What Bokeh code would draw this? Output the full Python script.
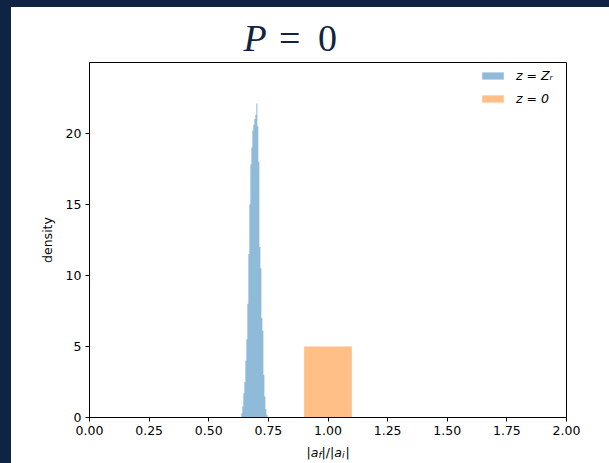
import numpy as np
from bokeh.plotting import figure
from bokeh.models import Legend, LegendItem, Label, FixedTicker, Range1d, Spacer, NumeralTickFormatter
from bokeh.layouts import row, column
from bokeh.embed import file_html
from bokeh.resources import INLINE

# ---------------- data ----------------
# z = Z_r histogram (density), uniform bins
zr_bin_lo = 0.6366
zr_bin_width = 0.0042
zr_density = [0.3, 0.8, 1.7, 2.5, 4.0, 5.5, 8.0, 11.5, 15.0, 17.8, 19.0, 20.2, 20.6,
              21.0, 21.3, 22.1, 20.5, 18.0, 12.0, 10.5, 7.0, 6.1, 3.0, 1.5, 0.6, 0.2]
# z = 0 histogram
z0_left = [0.9]
z0_right = [1.1]
z0_density = [5.0]

x_ticks = [0.0, 0.25, 0.5, 0.75, 1.0, 1.25, 1.5, 1.75, 2.0]
y_ticks = [0, 5, 10, 15, 20]
x_range = (0.0, 2.0)
y_range = (0.0, 24.98)

legend_labels = ["z = Z\u1d63", "z = 0"]
y_label = "density"

# ---------------- styles ----------------
NAVY = "#0f2442"
BLUE = "#1f77b4"
ORANGE = "#ff7f0e"
FONT = "DejaVu Sans"
TICK_FS = "12.5px"
W = 598
FRAME_W = 477
BL, BR = 78, 43


def blank_fig(h):
    f = figure(frame_width=FRAME_W, frame_height=h, output_backend="svg", toolbar_location=None,
               x_range=Range1d(0, FRAME_W), y_range=Range1d(0, h),
               x_axis_location=None, y_axis_location=None,
               min_border_left=BL, min_border_right=BR,
               min_border_top=0, min_border_bottom=0)
    f.grid.visible = False
    f.outline_line_color = None
    f.background_fill_color = "white"
    f.border_fill_color = "white"
    return f


# ---------------- title figure: P = 0 ----------------
title_fig = blank_fig(54)
for txt, xs, style in [("P", 154, "italic"), ("=", 189.5, "normal"), ("0", 228.5, "normal")]:
    title_fig.add_layout(Label(x=xs, y=23.5, text=txt,
                               text_font="Liberation Serif", text_font_size="38px",
                               text_font_style=style, text_color=NAVY,
                               text_baseline="alphabetic", text_align="left"))

# ---------------- main plot ----------------
zr_edges = zr_bin_lo + zr_bin_width * np.arange(len(zr_density) + 1)
zr_step_y = list(zr_density) + [0.0]

p = figure(frame_width=FRAME_W, frame_height=355, output_backend="svg", toolbar_location=None,
           x_range=Range1d(*x_range), y_range=Range1d(*y_range),
           min_border_left=BL, min_border_right=BR, min_border_top=1, min_border_bottom=24)
p.background_fill_color = "white"
p.border_fill_color = "white"
p.outline_line_color = "black"
p.outline_line_width = 1
p.grid.visible = False

r_zr = p.varea_step(x=zr_edges, y1=np.zeros(len(zr_edges)), y2=zr_step_y, step_mode="after",
                    fill_color=BLUE, fill_alpha=0.5)
r_z0 = p.quad(left=z0_left, right=z0_right, bottom=0, top=z0_density,
              fill_color=ORANGE, fill_alpha=0.5, line_color=None)

for ax in (p.xaxis[0], p.yaxis[0]):
    ax.axis_line_color = "black"
    ax.major_tick_line_color = "black"
    ax.minor_tick_line_color = None
    ax.major_tick_in = 0
    ax.major_tick_out = 4
    ax.major_label_text_font = FONT
    ax.major_label_text_font_size = TICK_FS
    ax.major_label_text_color = "black"
    ax.major_label_standoff = 4
    ax.axis_label_text_font = FONT
    ax.axis_label_text_font_size = TICK_FS
    ax.axis_label_text_font_style = "normal"
    ax.axis_label_text_color = "black"

p.xaxis.ticker = FixedTicker(ticks=x_ticks)
p.xaxis.formatter = NumeralTickFormatter(format="0.00")
p.yaxis.ticker = FixedTicker(ticks=y_ticks)
p.yaxis.axis_label = y_label
p.yaxis.axis_label_standoff = 8

legend = Legend(items=[LegendItem(label=legend_labels[0], renderers=[r_zr]),
                       LegendItem(label=legend_labels[1], renderers=[r_z0])],
                location="top_right", border_line_color=None, background_fill_alpha=0,
                glyph_width=27, glyph_height=9, label_standoff=10, spacing=8,
                label_width=44, padding=7, margin=6,
                label_text_font=FONT, label_text_font_size=TICK_FS,
                label_text_font_style="italic", label_text_color="black")
p.add_layout(legend)

# ---------------- x-axis label figure: |a_f|/|a_i| ----------------
xlab_fig = blank_fig(22)
for txt, xs, dy, fs, style in [("|", 217.0, 0, "12.5px", "normal"),
                               ("a", 221.2, 0, "12.5px", "italic"),
                               ("f", 228.9, -2.5, "9px", "italic"),
                               ("|/|", 232.1, 0, "12.5px", "normal"),
                               ("a", 244.7, 0, "12.5px", "italic"),
                               ("i", 252.4, -2.5, "9px", "italic"),
                               ("|", 256.0, 0, "12.5px", "normal")]:
    xlab_fig.add_layout(Label(x=xs, y=11 + dy, text=txt,
                              text_font=FONT, text_font_size=fs, text_font_style=style,
                              text_color="black", text_baseline="alphabetic", text_align="left"))

left_strip = Spacer(width=11, height=463, styles={"background-color": NAVY})
top_strip = Spacer(width=W, height=7, styles={"background-color": NAVY})
layout = row(left_strip, column(top_strip, title_fig, p, xlab_fig, spacing=0), spacing=0)

open("out.html", "w").write(file_html(layout, INLINE))
